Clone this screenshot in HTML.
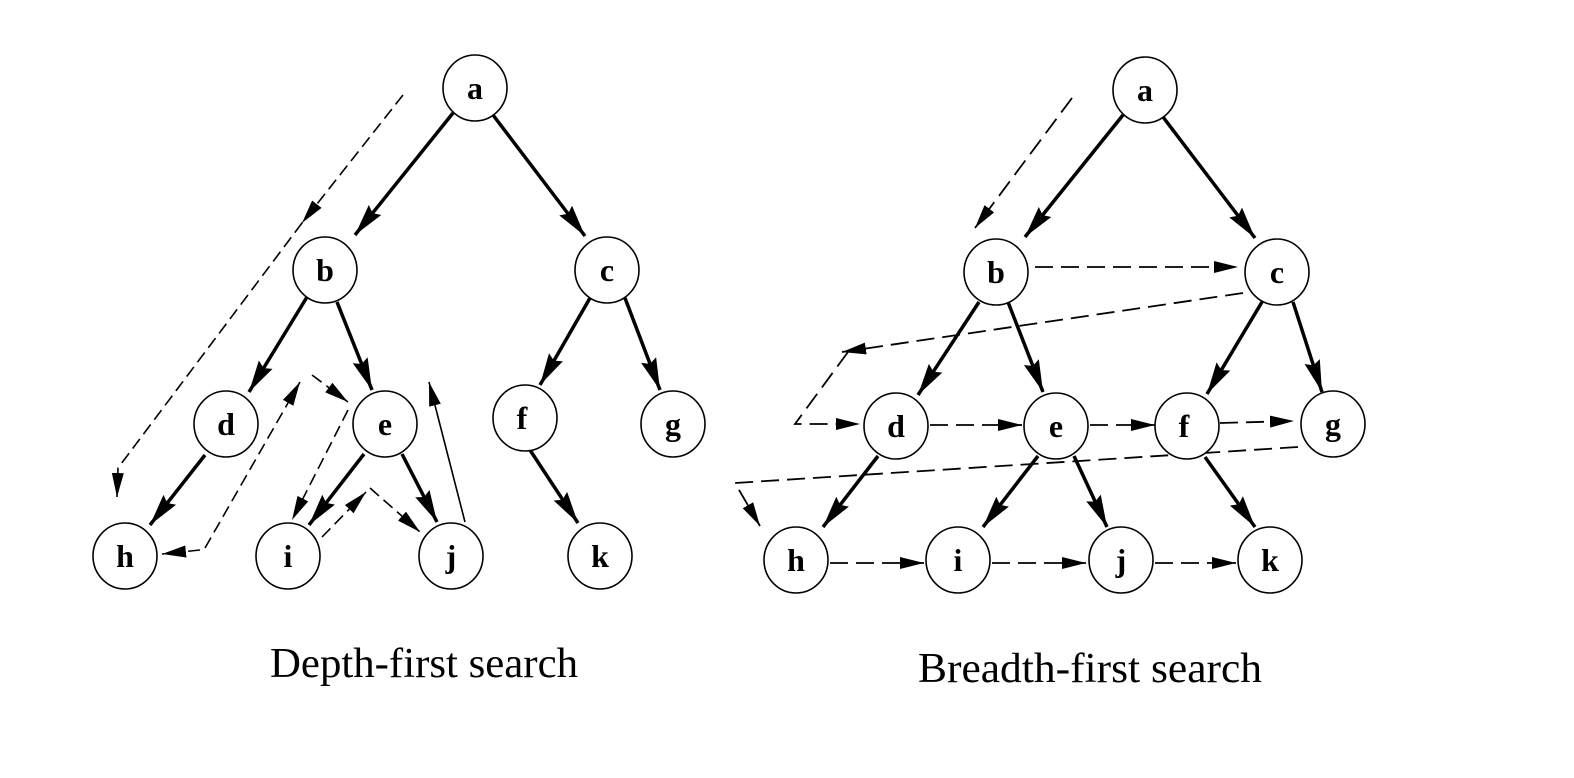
<!DOCTYPE html>
<html><head><style>
html,body{margin:0;padding:0;background:#fff;}
svg{display:block}
</style></head><body>
<svg width="1574" height="778" viewBox="0 0 1574 778" xmlns="http://www.w3.org/2000/svg">
<defs>
<marker id="s" markerUnits="userSpaceOnUse" markerWidth="34" markerHeight="18" refX="32" refY="9" orient="auto"><path d="M0,1 L32,9 L0,17 L4,9 Z" fill="#000"/></marker>
<marker id="d" markerUnits="userSpaceOnUse" markerWidth="26" markerHeight="14" refX="24" refY="7" orient="auto"><path d="M0,1 L24,7 L0,13 Z" fill="#000"/></marker>
</defs>
<g stroke="#000" stroke-width="3.5" fill="none" marker-end="url(#s)">
<line x1="453" y1="113" x2="355" y2="235"/>
<line x1="493" y1="115" x2="585" y2="236"/>
<line x1="307" y1="297" x2="249" y2="392"/>
<line x1="337" y1="302" x2="372" y2="390"/>
<line x1="590" y1="298" x2="540" y2="385"/>
<line x1="625" y1="298" x2="660" y2="390"/>
<line x1="205" y1="455" x2="150" y2="525"/>
<line x1="364" y1="454" x2="309" y2="525"/>
<line x1="402" y1="454" x2="437" y2="522"/>
<line x1="530" y1="450" x2="578" y2="523"/>
<line x1="1123" y1="115" x2="1025" y2="237"/>
<line x1="1163" y1="117" x2="1255" y2="238"/>
<line x1="979" y1="302" x2="918" y2="395"/>
<line x1="1008" y1="302" x2="1043" y2="392"/>
<line x1="1262" y1="302" x2="1207" y2="394"/>
<line x1="1293" y1="302" x2="1322" y2="392"/>
<line x1="878" y1="456" x2="823" y2="527"/>
<line x1="1038" y1="456" x2="983" y2="527"/>
<line x1="1074" y1="456" x2="1107" y2="527"/>
<line x1="1205" y1="457" x2="1255" y2="527"/>
</g>
<g stroke="#000" stroke-width="1.6" fill="none" stroke-dasharray="12,6">
<line x1="403" y1="95" x2="302" y2="223" marker-end="url(#d)"/>
<polyline points="302,223 118,468 117,497" marker-end="url(#d)"/>
<line x1="200" y1="550" x2="162" y2="554" marker-end="url(#d)"/>
<line x1="205" y1="548" x2="300" y2="382" marker-end="url(#d)"/>
<line x1="312" y1="375" x2="348" y2="402" marker-end="url(#d)"/>
<line x1="348" y1="410" x2="292" y2="520" marker-end="url(#d)"/>
<line x1="322" y1="537" x2="366" y2="492" marker-end="url(#d)"/>
<line x1="370" y1="488" x2="420" y2="532" marker-end="url(#d)"/>
<line x1="465" y1="522" x2="429" y2="382" marker-end="url(#d)" stroke-dasharray="none"/>
</g>
<g stroke="#000" stroke-width="1.8" fill="none" stroke-dasharray="18,8">
<line x1="1072" y1="98" x2="975" y2="228" marker-end="url(#d)"/>
<line x1="1035" y1="267" x2="1238" y2="267" marker-end="url(#d)"/>
<line x1="1243" y1="293" x2="842" y2="352" marker-end="url(#d)"/>
<polyline points="848,352 795,424 860,424" marker-end="url(#d)"/>
<line x1="930" y1="425" x2="1022" y2="425" marker-end="url(#d)"/>
<line x1="1090" y1="425" x2="1155" y2="425" marker-end="url(#d)"/>
<line x1="1220" y1="423" x2="1294" y2="421" marker-end="url(#d)"/>
<polyline points="1298,447 735,483 760,526" marker-end="url(#d)"/>
<line x1="830" y1="563" x2="924" y2="563" marker-end="url(#d)"/>
<line x1="992" y1="563" x2="1086" y2="563" marker-end="url(#d)"/>
<line x1="1155" y1="563" x2="1236" y2="563" marker-end="url(#d)"/>
</g>
<g stroke="#000" stroke-width="1.6" fill="#fff">
<ellipse cx="475" cy="88" rx="32" ry="33"/>
<ellipse cx="325" cy="270" rx="32" ry="33"/>
<ellipse cx="607" cy="270" rx="32" ry="33"/>
<ellipse cx="226" cy="424" rx="32" ry="33"/>
<ellipse cx="385" cy="424" rx="32" ry="33"/>
<ellipse cx="525" cy="418" rx="32" ry="33"/>
<ellipse cx="673" cy="424" rx="32" ry="33"/>
<ellipse cx="125" cy="556" rx="32" ry="33"/>
<ellipse cx="288" cy="556" rx="32" ry="33"/>
<ellipse cx="451" cy="556" rx="32" ry="33"/>
<ellipse cx="600" cy="556" rx="32" ry="33"/>
<ellipse cx="1145" cy="90" rx="32" ry="33"/>
<ellipse cx="996" cy="272" rx="32" ry="33"/>
<ellipse cx="1277" cy="272" rx="32" ry="33"/>
<ellipse cx="896" cy="426" rx="32" ry="33"/>
<ellipse cx="1056" cy="426" rx="32" ry="33"/>
<ellipse cx="1187" cy="426" rx="32" ry="33"/>
<ellipse cx="1333" cy="424" rx="32" ry="33"/>
<ellipse cx="796" cy="560" rx="32" ry="33"/>
<ellipse cx="958" cy="560" rx="32" ry="33"/>
<ellipse cx="1121" cy="560" rx="32" ry="33"/>
<ellipse cx="1270" cy="560" rx="32" ry="33"/>
</g>
<g font-family="'Liberation Serif',serif" font-size="32" font-weight="bold" text-anchor="middle" fill="#000">
<text x="475" y="99">a</text><text x="325" y="281">b</text><text x="607" y="281">c</text>
<text x="226" y="435">d</text><text x="385" y="435">e</text><text x="522" y="429">f</text>
<text x="673" y="435">g</text><text x="125" y="567">h</text><text x="288" y="567">i</text>
<text x="451" y="567">j</text><text x="600" y="567">k</text>
<text x="1145" y="101">a</text><text x="996" y="283">b</text><text x="1277" y="283">c</text>
<text x="896" y="437">d</text><text x="1056" y="437">e</text><text x="1184" y="437">f</text>
<text x="1333" y="435">g</text><text x="796" y="571">h</text><text x="958" y="571">i</text>
<text x="1121" y="571">j</text><text x="1270" y="571">k</text>
</g>
<g font-family="'Liberation Serif',serif" font-size="42" text-anchor="middle" fill="#000">
<text x="424" y="677" textLength="308" lengthAdjust="spacingAndGlyphs">Depth-first search</text>
<text x="1090" y="682" textLength="344" lengthAdjust="spacingAndGlyphs">Breadth-first search</text>
</g>
</svg>
</body></html>
